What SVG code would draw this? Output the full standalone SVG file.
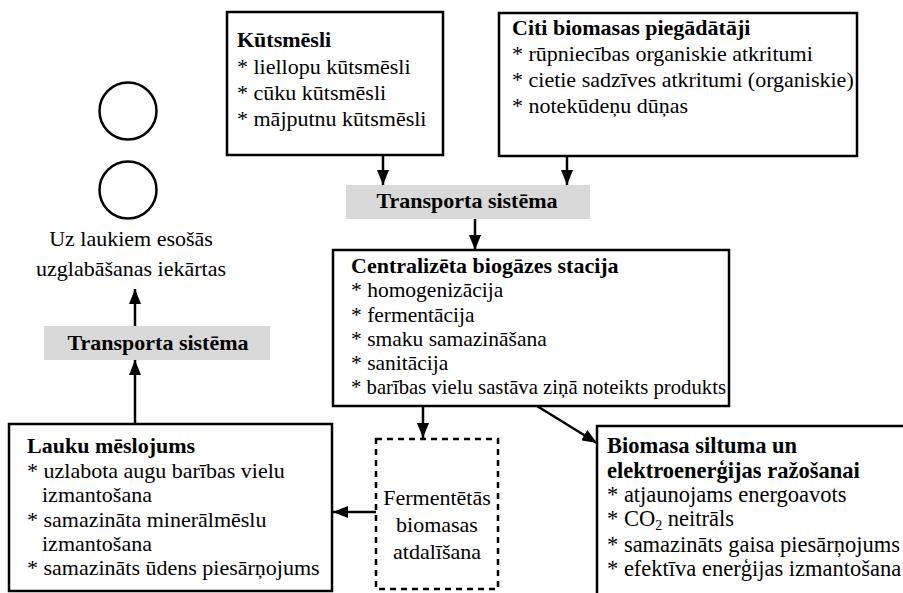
<svg xmlns="http://www.w3.org/2000/svg" width="903" height="593" viewBox="0 0 903 593">
  <defs>
    <marker id="arrow" viewBox="0 0 15 12" refX="15" refY="6" markerWidth="15" markerHeight="12" markerUnits="userSpaceOnUse" orient="auto">
      <path d="M0,0 L15,6 L0,12 Z" fill="#000"/>
    </marker>
  </defs>
  <style>
    text { font-family: "Liberation Serif", "Times New Roman", serif; font-size: 22px; fill: #000; }
    .b { font-weight: bold; }
    .s { font-size: 21.5px; }
    .e { font-size: 22.5px; }
    .box { fill: #fff; stroke: #000; stroke-width: 2.5; }
    .dash { fill: #fff; stroke: #000; stroke-width: 2.5; stroke-dasharray: 6 5; }
    .band { fill: #d9d9d9; stroke: none; }
    .ring { fill: #fff; stroke: #000; stroke-width: 2.5; }
    .conn { fill: none; stroke: #000; stroke-width: 2.5; marker-end: url(#arrow); }
    .c { text-anchor: middle; }
  </style>

  <!-- connectors -->
  <g id="connectors">
    <line class="conn" x1="383" y1="155" x2="383" y2="185"/>
    <line class="conn" x1="567" y1="157" x2="567" y2="185"/>
    <line class="conn" x1="475" y1="219" x2="475" y2="250"/>
    <line class="conn" x1="423" y1="406" x2="423" y2="438"/>
    <line class="conn" x1="537" y1="406" x2="597" y2="443"/>
    <line class="conn" x1="376" y1="512" x2="333" y2="512"/>
    <line class="conn" x1="135" y1="423" x2="135" y2="360"/>
    <line class="conn" x1="135" y1="326" x2="135" y2="289"/>
  </g>

  <!-- manure sources -->
  <g id="kutsmesli">
    <rect class="box" x="227" y="12" width="216" height="143"/>
    <text class="b" x="237" y="47">Kūtsmēsli</text>
    <text x="237" y="74">* liellopu kūtsmēsli</text>
    <text x="237" y="100">* cūku kūtsmēsli</text>
    <text x="237" y="126">* mājputnu kūtsmēsli</text>
  </g>

  <!-- other suppliers -->
  <g id="citi">
    <rect class="box" x="499" y="13" width="358" height="143"/>
    <text class="b" x="512" y="35">Citi biomasas piegādātāji</text>
    <text x="512" y="61">* rūpniecības organiskie atkritumi</text>
    <text x="512" y="87">* cietie sadzīves atkritumi (organiskie)</text>
    <text x="512" y="113">* notekūdeņu dūņas</text>
  </g>

  <!-- transport, top -->
  <g id="transport-top">
    <rect class="band" x="346" y="185" width="244" height="34"/>
    <text class="b c" x="467" y="208">Transporta sistēma</text>
  </g>

  <!-- central plant -->
  <g id="stacija">
    <rect class="box" x="333" y="250" width="396" height="156"/>
    <text class="b" x="351" y="273">Centralizēta biogāzes stacija</text>
    <text class="s" x="351" y="297">* homogenizācija</text>
    <text class="s" x="351" y="322">* fermentācija</text>
    <text class="s" x="351" y="346">* smaku samazināšana</text>
    <text class="s" x="351" y="370">* sanitācija</text>
    <text class="s" x="351" y="394" textLength="375" lengthAdjust="spacingAndGlyphs">* barības vielu sastāva ziņā noteikts produkts</text>
  </g>

  <!-- separation -->
  <g id="atdalisana">
    <rect class="dash" x="376" y="439" width="122" height="150"/>
    <text class="c" x="437" y="505">Fermentētās</text>
    <text class="c" x="437" y="532">biomasas</text>
    <text class="c" x="437" y="559">atdalīšana</text>
  </g>

  <!-- energy use -->
  <g id="energija">
    <rect class="box" x="597" y="426" width="330" height="190"/>
    <text class="b e" x="607" y="453">Biomasa siltuma un</text>
    <text class="b e" x="607" y="478">elektroenerģijas ražošanai</text>
    <text class="e" x="607" y="502">* atjaunojams energoavots</text>
    <text class="e" x="607" y="526">* CO<tspan dy="4" font-size="14">2</tspan><tspan dy="-4"> neitrāls</tspan></text>
    <text class="e" x="607" y="552">* samazināts gaisa piesārņojums</text>
    <text class="e" x="607" y="576">* efektīva enerģijas izmantošana</text>
  </g>

  <!-- field fertilisation -->
  <g id="lauku">
    <rect class="box" x="9" y="424" width="323" height="167"/>
    <text class="b" x="27" y="453">Lauku mēslojums</text>
    <text x="27" y="478">* uzlabota augu barības vielu</text>
    <text x="42" y="502">izmantošana</text>
    <text x="27" y="527">* samazināta minerālmēslu</text>
    <text x="42" y="551">izmantošana</text>
    <text x="27" y="575">* samazināts ūdens piesārņojums</text>
  </g>

  <!-- transport, left -->
  <g id="transport-left">
    <rect class="band" x="44" y="326" width="226" height="34"/>
    <text class="b c" x="158" y="350">Transporta sistēma</text>
  </g>

  <!-- storage -->
  <g id="uzglabasana">
    <circle class="ring" cx="128" cy="111" r="28.5"/>
    <circle class="ring" cx="128" cy="190" r="28.5"/>
    <text class="c" x="131" y="246">Uz laukiem esošās</text>
    <text class="c" x="131" y="276">uzglabāšanas iekārtas</text>
  </g>
</svg>
